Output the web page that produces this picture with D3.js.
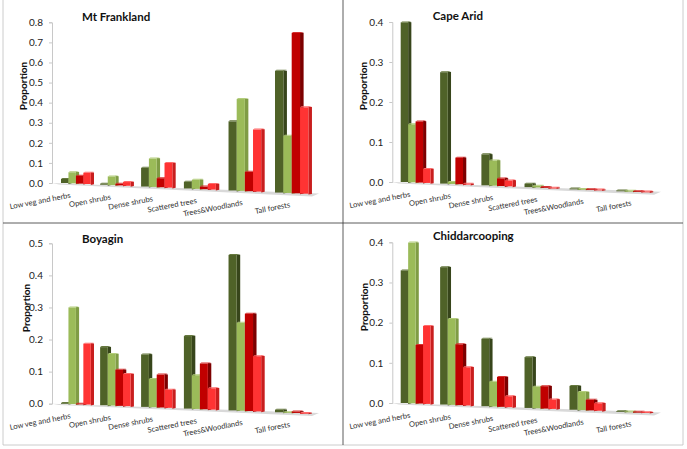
<!DOCTYPE html>
<html><head><meta charset="utf-8">
<style>html,body{margin:0;padding:0;background:#fff}svg{display:block}text{font-family:Lato,"Open Sans",sans-serif}</style>
<script src="https://cdn.jsdelivr.net/npm/d3@7"></script></head>
<body><svg id="c" width="687" height="449"></svg>
<script>
const categories = ["Low veg and herbs","Open shrubs","Dense shrubs","Scattered trees","Trees&Woodlands","Tall forests"];
const seriesKeys = ["s1","s2","s3","s4"];
const mtFrankland1 = [.02,.005,.089,.031,.314,.541];
const mtFrankland2 = [.055,.042,.135,.042,.417,.254];
const mtFrankland3 = [.04,.008,.043,.012,.088,.713];
const mtFrankland4 = [.056,.018,.117,.026,.282,.384];
const capeArid1 = [.399,.272,.074,.008,.001,.001];
const capeArid2 = [.145,.005,.06,.004,.001,.001];
const capeArid3 = [.153,.065,.018,.002,.001,.001];
const capeArid4 = [.035,.002,.014,.001,.001,.001];
const boyagin1 = [.002,.177,.156,.211,.442,.007];
const boyagin2 = [.301,.157,.084,.098,.25,.001];
const boyagin3 = [.002,.11,.098,.133,.277,.004];
const boyagin4 = [.19,.098,.054,.062,.157,.001];
const chidda1 = [.33,.334,.16,.118,.054,.001];
const chidda2 = [.40,.209,.059,.05,.041,.001];
const chidda3 = [.146,.148,.071,.052,.024,.001];
const chidda4 = [.194,.093,.026,.022,.017,.001];
const ticksA = [0,.1,.2,.3,.4,.5,.6,.7,.8];
const ticksB = [0,.1,.2,.3,.4];
const ticksC = [0,.1,.2,.3,.4,.5];

const front = ["#4f6228","#9bbb59","#c00000","#ff3333"];
const side  = ["#37451b","#7f9c45","#7d0000","#c81e1e"];
const cap   = ["#66793f","#b3cd7c","#d63030","#ff6a6a"];

const panels = [
 {title:"Mt Frankland",series:[mtFrankland1,mtFrankland2,mtFrankland3,mtFrankland4],ticks:ticksA,ax:52,y0:183,yt:22.3,x0:61,x5:275,end:319,slope:.0447,tx:82,ty:21,ytx:27,yty:86},
 {title:"Cape Arid",series:[capeArid1,capeArid2,capeArid3,capeArid4],ticks:ticksB,ax:392.3,y0:182,yt:22,x0:400.7,x5:616.3,end:661,slope:.0415,tx:432.7,ty:20,yty:86,ytx:367},
 {title:"Boyagin",series:[boyagin1,boyagin2,boyagin3,boyagin4],ticks:ticksC,ax:52,y0:403.7,yt:243.3,x0:61,x5:275,end:319,slope:.04,tx:82,ty:243,ytx:30,yty:308},
 {title:"Chiddarcooping",series:[chidda1,chidda2,chidda3,chidda4],ticks:ticksB,ax:392.3,y0:403,yt:242.3,x0:400.7,x5:616.3,end:661,slope:.04,tx:433,ty:240,ytx:368,yty:307}
];
const svg = d3.select("#c");
const depth = i => 1 + .024*i;

panels.forEach(p=>{
  const g = svg.append("g");
  const y = d3.scaleLinear().domain([0,d3.max(p.ticks)]).range([p.y0,p.yt]);
  const xp = d3.scaleLinear().domain([0,5*depth(5)]).range([p.x0,p.x5]);
  const gx = i => xp(i*depth(i));
  const floor = x => p.y0 + p.slope*(x-p.x0);
  // floor plate
  const fEnd = p.end;
  g.append("path").attr("fill","#d9d9d9")
    .attr("d",d3.line()([[p.ax,p.y0],[fEnd,floor(fEnd)-1],[fEnd-7,floor(fEnd)+2],[p.x0-2,floor(p.x0-2)+1.5]]));
  // axis
  const axis = d3.axisLeft(y).tickValues(p.ticks).tickFormat(d3.format(".1f")).tickSize(3).tickPadding(6);
  const ag = g.append("g").attr("transform",`translate(${p.ax},0)`).call(axis);
  ag.selectAll("path,line").attr("stroke","#c8c8c8");
  ag.selectAll("text").attr("font-size",10).attr("fill","#222");
  // bars
  p.series.forEach((vals,s)=>{});
  categories.forEach((c,i)=>{
    const gw = gx(i+1>5?5:i+1)-gx(i);
    const step = (i<5 ? gw : gx(5)-gx(4))*0.19*depth(i+.0)/depth(i)*1.0;
    const w = 7.1*depth(i), sd = 3.2*depth(i);
    const sBar = 7.45*depth(i)*1.0;
    p.series.forEach((vals,s)=>{
      const x = gx(i)+s*sBar;
      const b = floor(x);
      const h = (p.y0-y(vals[s===undefined?0:i]))*depth(i);
      const t = b-h;
      const gg = g.append("g");
      gg.append("path").attr("fill",side[s])
        .attr("d",d3.line()([[x+sBar,t-.6],[x+sBar+sd,t-.2],[x+sBar+sd,b+.2],[x+sBar,b+.9]]));
      gg.append("rect").attr("x",x).attr("y",t).attr("width",sBar).attr("height",Math.max(h,.8)).attr("fill",front[s]);
      gg.append("path").attr("fill",cap[s])
        .attr("d",d3.line()([[x,t],[x+1.5,t-1],[x+sBar+sd,t-1],[x+sBar,t]]));
    });
    g.append("text").attr("text-anchor","end").attr("font-size",7.6).attr("fill","#333")
      .attr("transform",`translate(${gx(i)+10+i*1.1},${floor(gx(i))+14.5}) rotate(-11)`).text(c);
  });
  g.append("text").attr("x",p.tx).attr("y",p.ty).attr("font-size",11.5).attr("font-weight",700).attr("fill","#111").text(p.title);
  g.append("text").attr("transform",`translate(${p.ytx},${p.yty}) rotate(-90)`).attr("text-anchor","middle").attr("font-size",10).attr("font-weight",700).attr("fill","#111").text("Proportion");
});
// frame
const frame = [[3,0,3,445,"#bfbfbf"],[3,445,683,445,"#bfbfbf"],[683,0,683,445,"#bfbfbf"],[3,223,683,223,"#333"],[343,0,343,445,"#333"]];
svg.selectAll("line.f").data(frame).join("line").attr("class","f")
  .attr("x1",d=>d[0]).attr("y1",d=>d[1]).attr("x2",d=>d[2]).attr("y2",d=>d[3]).attr("stroke",d=>d[4]).attr("stroke-width",.8);
</script></body></html>
